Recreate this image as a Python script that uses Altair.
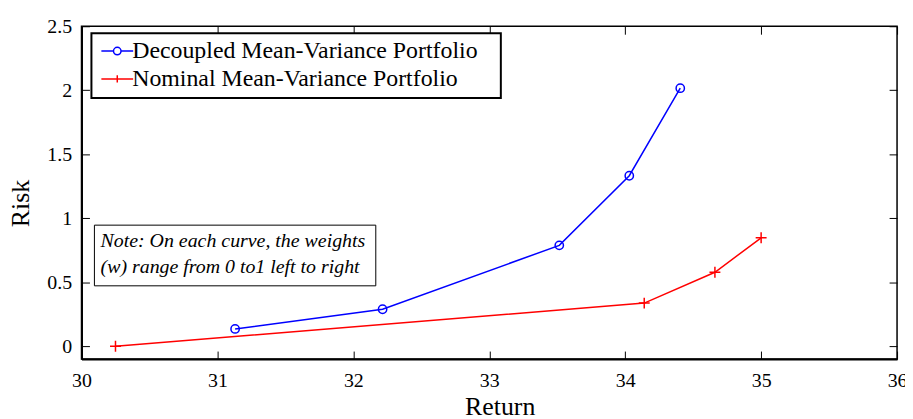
import altair as alt
import pandas as pd

# ---- data ----
series = ["Decoupled Mean-Variance Portfolio", "Nominal Mean-Variance Portfolio"]
colors = ["#0000ff", "#ff0000"]
dec_x = [31.13, 32.215, 33.515, 34.03, 34.405]
dec_y = [0.135, 0.289, 0.788, 1.332, 2.016]
nom_x = [30.25, 34.14, 34.66, 35.0]
nom_y = [0.0, 0.337, 0.578, 0.847]
x_ticks = [30, 31, 32, 33, 34, 35, 36]
y_ticks = [0, 0.5, 1, 1.5, 2, 2.5]
x_domain = [30, 36]
y_domain = [-0.1, 2.5]
note_lines = ["Note: On each curve, the weights", "(w) range from 0 to1 left to right"]
note_x = [30.14, 30.14]
note_y = [0.775, 0.573]
note_box_x = [30.095, 32.165]
note_box_y = [0.472, 0.946]
legend_box_x = [30.073, 33.085]
legend_box_y = [1.94, 2.445]

FONT = "Liberation Serif"

dec = pd.DataFrame({"Return": dec_x, "Risk": dec_y, "Series": series[0]})
nom = pd.DataFrame({"Return": nom_x, "Risk": nom_y, "Series": series[1]})
both = pd.concat([dec, nom], ignore_index=True)
note_df = pd.DataFrame({"x": note_x, "y": note_y, "text": note_lines})
box_df = pd.DataFrame({"x": [note_box_x[0]], "x2": [note_box_x[1]],
                       "y": [note_box_y[0]], "y2": [note_box_y[1]]})
leg_box_df = pd.DataFrame({"x": [legend_box_x[0]], "x2": [legend_box_x[1]],
                           "y": [legend_box_y[0]], "y2": [legend_box_y[1]]})

xs = alt.Scale(domain=x_domain, nice=False, zero=False)
ys = alt.Scale(domain=y_domain, nice=False, zero=False)

# label axes (no ticks)
x_lab = alt.Axis(orient="bottom", values=x_ticks, format="d", ticks=False, tickSize=0,
                 labelPadding=12, labelFontSize=20, labelFont=FONT, labelColor="black",
                 labelFlush=False, labelOverlap=False,
                 domainColor="black", domainWidth=2, grid=False,
                 title="Return", titleFont=FONT, titleFontSize=26, titleFontWeight="normal",
                 titleColor="black", titleX=421, titleY=56, titleBaseline="alphabetic")
y_lab = alt.Axis(orient="left", values=y_ticks, format="~g", ticks=False, tickSize=0,
                 labelPadding=10, labelFontSize=20, labelFont=FONT, labelColor="black",
                 labelFlush=False, labelOverlap=False,
                 domainColor="black", domainWidth=2, grid=False,
                 title="Risk", titleFont=FONT, titleFontSize=26, titleFontWeight="normal",
                 titleColor="black", titleX=-53, titleY=178, titleBaseline="alphabetic")


def tick_axis(orient, vals):
    return alt.Axis(orient=orient, values=vals, labels=False, domain=False, ticks=True,
                    tickSize=8, tickWidth=1, tickColor="black", offset=-8, title=None,
                    grid=False)


red_line = alt.Chart(nom).mark_line(color=colors[1], strokeWidth=1.5).encode(
    x=alt.X("Return:Q", scale=xs, axis=x_lab),
    y=alt.Y("Risk:Q", scale=ys, axis=y_lab),
)
blue_line = alt.Chart(dec).mark_line(color=colors[0], strokeWidth=1.5).encode(
    x=alt.X("Return:Q", scale=xs, axis=tick_axis("bottom", x_ticks)),
    y=alt.Y("Risk:Q", scale=ys, axis=tick_axis("left", y_ticks)),
)
blue_pts = alt.Chart(dec).mark_point(shape="circle", filled=False, color=colors[0],
                                     size=70, strokeWidth=1.5, opacity=1).encode(
    x=alt.X("Return:Q", scale=xs, axis=tick_axis("top", x_ticks)),
    y=alt.Y("Risk:Q", scale=ys, axis=tick_axis("right", y_ticks)),
)
red_pts = alt.Chart(nom).mark_point(shape="M-1,0H1M0,-1V1", filled=False, color=colors[1],
                                    size=121, strokeWidth=1.5, opacity=1).encode(
    x=alt.X("Return:Q", scale=xs, axis=None),
    y=alt.Y("Risk:Q", scale=ys, axis=None),
)

# legend frame
leg_box = alt.Chart(leg_box_df).mark_rect(fill="white", stroke="black", strokeWidth=2).encode(
    x=alt.X("x:Q", scale=xs, axis=None), x2="x2:Q",
    y=alt.Y("y:Q", scale=ys, axis=None), y2="y2:Q",
)

# legend symbols: line with a circle / line with a plus (unit = 8 px)
leg_circle = ("M-2,0H-0.475M0.475,0H2M0.475,0A0.475,0.475,0,1,1,-0.475,0"
              "A0.475,0.475,0,1,1,0.475,0Z")
leg_plus = "M-2,0H2M0,-0.45V0.45"
legend = alt.Legend(orient="none", legendX=10, legendY=7, title=None,
                    labelFont=FONT, labelFontSize=24, labelColor="black", labelLimit=600,
                    symbolSize=256, symbolStrokeWidth=1.5, symbolOpacity=1,
                    symbolOffset=8, labelOffset=3, padding=6, rowPadding=4)
legend_layer = alt.Chart(both).mark_point(filled=False, opacity=0).encode(
    x=alt.X("Return:Q", scale=xs, axis=None),
    y=alt.Y("Risk:Q", scale=ys, axis=None),
    color=alt.Color("Series:N", scale=alt.Scale(domain=series, range=colors), legend=legend),
    shape=alt.Shape("Series:N", scale=alt.Scale(domain=series, range=[leg_circle, leg_plus]),
                    legend=legend),
)

box = alt.Chart(box_df).mark_rect(fill="white", stroke="black", strokeWidth=1).encode(
    x=alt.X("x:Q", scale=xs, axis=None), x2="x2:Q",
    y=alt.Y("y:Q", scale=ys, axis=None), y2="y2:Q",
)
note = alt.Chart(note_df).mark_text(align="left", baseline="alphabetic", font=FONT,
                                    fontSize=20, fontStyle="italic", color="black").encode(
    x=alt.X("x:Q", scale=xs, axis=None),
    y=alt.Y("y:Q", scale=ys, axis=None),
    text="text:N",
)

chart = alt.layer(red_line, blue_line, blue_pts, red_pts, leg_box, legend_layer, box,
                  note).resolve_axis(
    x="independent", y="independent"
).properties(
    width=821, height=335,
    autosize=alt.AutoSizeParams(type="none"),
    padding={"left": 74, "top": 17, "right": 8, "bottom": 58},
    background="white",
).configure_view(stroke="black", strokeWidth=1.5)

chart.save("out.html", embed_options={"renderer": "svg", "actions": False})
